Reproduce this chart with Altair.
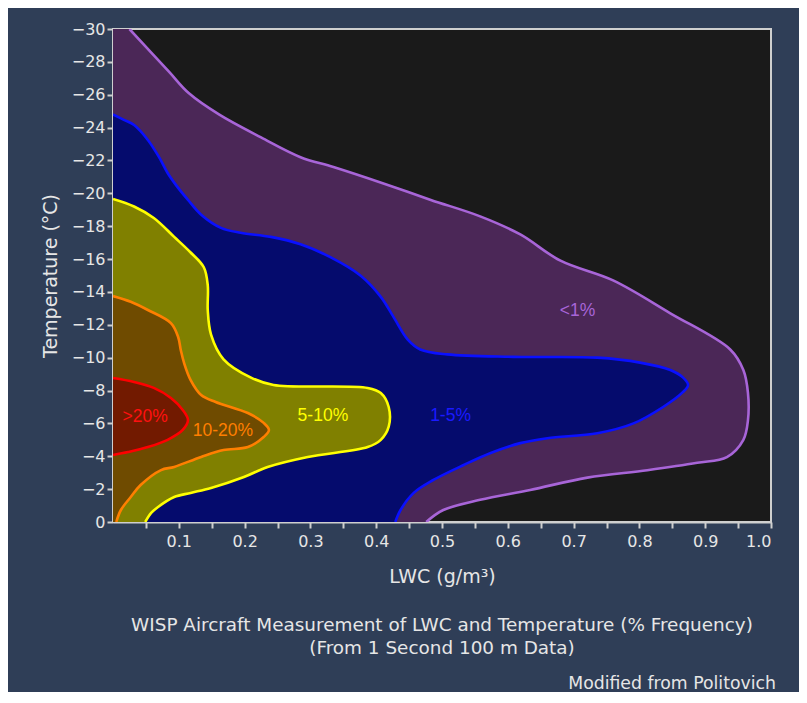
import altair as alt
import pandas as pd

# ---- contour boundaries (LWC g/m3 vs temperature degC) ----
lt1_lwc = [0.025, 0.085, 0.115, 0.161, 0.225, 0.285, 0.335, 0.411, 0.483, 0.558, 0.619, 0.680, 0.760,
           0.847, 0.938, 0.958, 0.965, 0.965, 0.958, 0.933, 0.888, 0.812, 0.721, 0.634, 0.558, 0.502, 0.476]
lt1_temp = [-30.0, -27.4, -26.1, -24.8, -23.4, -22.2, -21.6, -20.6, -19.6, -18.6, -17.5, -15.9, -14.7,
            -12.7, -10.5, -9.25, -7.85, -6.2, -5.0, -3.95, -3.6, -3.15, -2.7, -1.95, -1.35, -0.73, 0.0]

b15_lwc = [0.0, 0.015, 0.032, 0.053, 0.070, 0.083, 0.099, 0.114, 0.134, 0.164, 0.194, 0.240, 0.285,
           0.331, 0.376, 0.407, 0.426, 0.448, 0.467, 0.508, 0.608, 0.736, 0.801, 0.847, 0.866, 0.874,
           0.866, 0.836, 0.791, 0.736, 0.660, 0.619, 0.574, 0.533, 0.487, 0.457, 0.437, 0.429]
b15_temp = [-24.8, -24.5, -24.16, -23.25, -22.2, -21.24, -20.33, -19.6, -18.7, -17.9, -17.6, -17.35, -16.9,
            -16.1, -15.0, -13.7, -12.5, -11.1, -10.5, -10.2, -10.05, -10.0, -9.7, -9.25, -8.8, -8.34,
            -7.9, -7.0, -6.0, -5.4, -5.1, -4.8, -4.2, -3.47, -2.56, -1.77, -0.73, 0.0]

b510_lwc = [0.0, 0.032, 0.062, 0.093, 0.118, 0.138, 0.144, 0.144, 0.149, 0.168, 0.209, 0.244, 0.387,
            0.407, 0.419, 0.419, 0.407, 0.387, 0.296, 0.235, 0.199, 0.149, 0.118, 0.093, 0.068, 0.058, 0.049]
b510_temp = [-19.66, -19.2, -18.5, -17.35, -16.4, -15.5, -14.4, -12.9, -11.4, -9.9, -8.8, -8.34, -8.16,
             -7.85, -7.0, -5.8, -5.0, -4.56, -3.96, -3.35, -2.74, -2.07, -1.77, -1.52, -0.9, -0.55, 0.0]

b1020_lwc = [0.0, 0.027, 0.053, 0.088, 0.099, 0.103, 0.108, 0.118, 0.134, 0.156, 0.205, 0.229, 0.237,
             0.229, 0.205, 0.168, 0.134, 0.093, 0.073, 0.042, 0.027, 0.012, 0.005]
b1020_temp = [-13.75, -13.4, -12.9, -12.1, -11.26, -10.47, -9.68, -8.64, -7.73, -7.3, -6.63, -6.03, -5.6,
              -5.17, -4.56, -4.38, -3.96, -3.35, -3.16, -2.25, -1.52, -0.73, 0.0]

gt20_lwc = [0.0, 0.032, 0.062, 0.088, 0.106, 0.114, 0.106, 0.083, 0.053, 0.023, 0.0]
gt20_temp = [-8.76, -8.52, -8.16, -7.55, -6.82, -6.2, -5.6, -5.0, -4.56, -4.26, -4.08]

band_names = ["<1%", "1-5%", "5-10%", "10-20%", ">20%"]
band_fill = ["#4b2757", "#050b6d", "#808000", "#6f4b00", "#721a00"]
band_line = ["#a865d8", "#0a10ff", "#ffff00", "#ff7f00", "#ff0000"]

label_text = [">20%", "10-20%", "5-10%", "1-5%", "<1%"]
label_lwc = [0.049, 0.167, 0.319, 0.513, 0.706]
label_temp = [-6.39, -5.54, -6.42, -6.42, -12.84]
label_color = ["#ff1010", "#ff7f00", "#ffff00", "#1a1aff", "#a865d8"]

title_line1 = "WISP Aircraft Measurement of LWC and Temperature (% Frequency)"
title_line2 = "(From 1 Second 100 m Data)"
credit = "Modified from Politovich"

bands = [(lt1_lwc, lt1_temp), (b15_lwc, b15_temp), (b510_lwc, b510_temp),
         (b1020_lwc, b1020_temp), (gt20_lwc, gt20_temp)]

W, H = 658, 493
TXT = "#e6e6e6"
FONT = "DejaVu Sans"

xscale = alt.Scale(domain=[0, 1], nice=False, zero=False)
yscale = alt.Scale(domain=[-30, 0], reverse=True, nice=False, zero=False)
xticks = [round(0.05 * k, 2) for k in range(1, 21)]
xaxis = alt.Axis(values=xticks, title="LWC (g/m³)", grid=False,
                 labelExpr="(round(datum.value*100) % 10 == 0) ? format(datum.value, '.1f') : ''")
yaxis = alt.Axis(values=list(range(-30, 1, 2)), title="Temperature (°C)", grid=False)

layers = []
for (lw, tp), name, fc, lc in zip(bands, band_names, band_fill, band_line):
    df = pd.DataFrame({"lwc": lw, "temp": tp, "i": list(range(len(lw)))})
    area = alt.Chart(df).mark_area(orient="horizontal", color=fc, opacity=1,
                                   interpolate="catmull-rom").encode(
        x=alt.X("lwc:Q", scale=xscale, axis=xaxis, stack=None),
        y=alt.Y("temp:Q", scale=yscale, axis=yaxis),
    )
    line = alt.Chart(df).mark_line(color=lc, strokeWidth=2.6, clip=True,
                                   interpolate="catmull-rom").encode(
        x=alt.X("lwc:Q", scale=xscale, axis=xaxis),
        y=alt.Y("temp:Q", scale=yscale, axis=yaxis),
        order=alt.Order("i:Q"),
    )
    layers += [area, line]

ldf = pd.DataFrame({"lwc": label_lwc, "temp": label_temp, "txt": label_text, "col": label_color})
labels = alt.Chart(ldf).mark_text(font="Liberation Sans", fontSize=17.5, baseline="middle", align="center").encode(
    x=alt.X("lwc:Q", scale=xscale, axis=xaxis),
    y=alt.Y("temp:Q", scale=yscale, axis=yaxis),
    text="txt:N",
    color=alt.Color("col:N", scale=None),
)
layers.append(labels)

tdf = pd.DataFrame({"t": [title_line1, title_line2, credit]})
t1 = alt.Chart(tdf).transform_filter(alt.datum.t == title_line1).mark_text(
    font=FONT, fontSize=18.4, color=TXT, align="center", baseline="middle").encode(
    x=alt.value(W / 2), y=alt.value(596), text="t:N")
t2 = alt.Chart(tdf).transform_filter(alt.datum.t == title_line2).mark_text(
    font=FONT, fontSize=18.4, color=TXT, align="center", baseline="middle").encode(
    x=alt.value(W / 2), y=alt.value(619), text="t:N")
t3 = alt.Chart(tdf).transform_filter(alt.datum.t == credit).mark_text(
    font=FONT, fontSize=17.3, color=TXT, align="right", baseline="middle").encode(
    x=alt.value(663), y=alt.value(655), text="t:N")
layers += [t1, t2, t3]

chart = alt.layer(*layers).properties(
    width=W, height=H, background="#2f3e57",
    padding={"left": 105, "top": 21, "right": 28, "bottom": 170},
    autosize=alt.AutoSizeParams(type="none"),
).configure_view(
    fill="#1a1a1a", stroke="#cfcfcf", strokeWidth=2
).configure_axis(
    domainColor="#cfcfcf", domainWidth=2, tickColor="#cfcfcf", tickWidth=2, tickSize=6,
    labelColor=TXT, labelFont=FONT, labelFontSize=16, labelPadding=2,
    titleColor=TXT, titleFont=FONT, titleFontSize=19, titleFontWeight="normal",
).configure_axisX(labelPadding=5, titlePadding=18).configure_axisY(titlePadding=11)

chart.save("out.html", embed_options={"renderer": "svg", "actions": False})
